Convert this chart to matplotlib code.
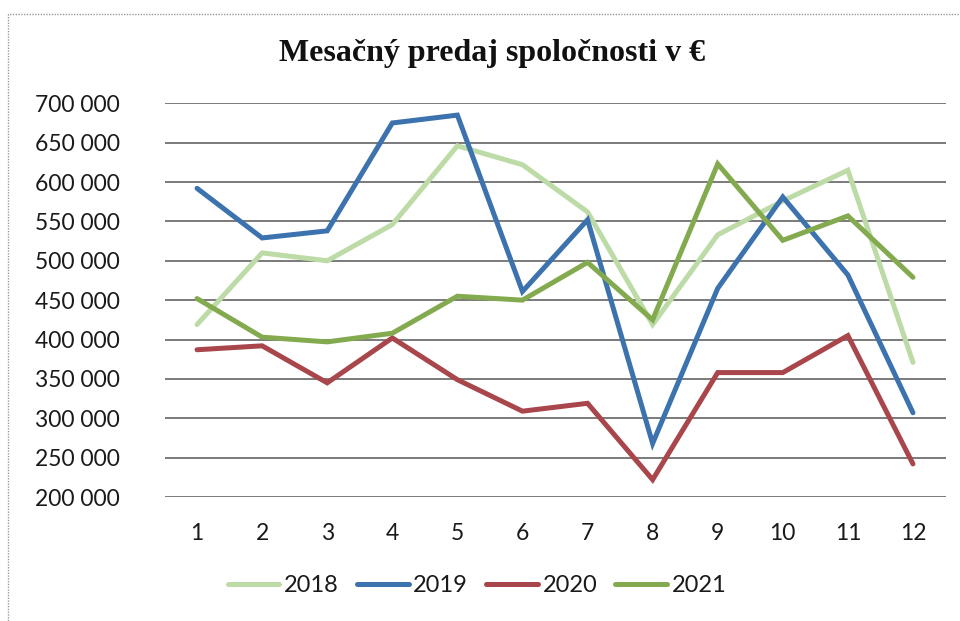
import matplotlib
matplotlib.use("Agg")
import matplotlib.pyplot as plt
from matplotlib.patches import Rectangle
from matplotlib.ticker import FuncFormatter

months = [1, 2, 3, 4, 5, 6, 7, 8, 9, 10, 11, 12]
sales_2018 = [419000, 510000, 500000, 546000, 646000, 622000, 562000, 419000, 533000, 576000, 615000, 371000]
sales_2019 = [592000, 529000, 538000, 675000, 685000, 461000, 552000, 268000, 465000, 581000, 482000, 307000]
sales_2020 = [387000, 392000, 345000, 402000, 349000, 309000, 319000, 222000, 358000, 358000, 405000, 242000]
sales_2021 = [452000, 403000, 397000, 408000, 455000, 450000, 498000, 425000, 623000, 526000, 557000, 479000]
series_labels = ["2018", "2019", "2020", "2021"]
yticks = [200000, 250000, 300000, 350000, 400000, 450000, 500000, 550000, 600000, 650000, 700000]
title = "Mesačný predaj spoločnosti v €"

colors = ["#bcdba6", "#3c72ae", "#a9464b", "#84aa4f"]

fig = plt.figure(figsize=(9.6, 6.21), dpi=100)
fig.patch.set_facecolor("white")
# outer chart border (scanned Excel chart frame)
fig.patches.append(Rectangle((8/960, -0.05), 1.1, 1 - 14/621 + 0.05, transform=fig.transFigure,
                             fill=False, edgecolor="#9a9a9a", linewidth=1.0, linestyle=(0, (1, 1))))

ax = fig.add_axes([164.5/960, 1 - 497/621, (945.5 - 164.5)/960, (497 - 103.3)/621])
ax.set_xlim(0.5, 12.5)
ax.set_ylim(200000, 700000)
for s in ax.spines.values():
    s.set_visible(False)
ax.set_yticks(yticks)
ax.yaxis.grid(True, color="#7a7a7a", linewidth=1.4)
ax.set_axisbelow(True)
ax.set_xticks(months)
ax.tick_params(length=0)
ax.tick_params(axis="y", pad=32, labelsize=16.5, labelcolor="#1a1a1a")
ax.tick_params(axis="x", pad=19, labelsize=16.5, labelcolor="#1a1a1a")
ax.yaxis.set_major_formatter(FuncFormatter(lambda v, p: f"{int(v):,}".replace(",", " ")))
for lab in ax.get_xticklabels() + ax.get_yticklabels():
    lab.set_fontfamily("Lato")

handles = []
for vals, c, lab in zip([sales_2018, sales_2019, sales_2020, sales_2021], colors, series_labels):
    h, = ax.plot(months, vals, color=c, linewidth=3.6, solid_capstyle="round",
                 solid_joinstyle="miter", label=lab)
    handles.append(h)

fig.text(492/960, 1 - 53/621, title, ha="center", va="center",
         fontfamily="Liberation Serif", fontweight="bold", fontsize=23, color="#111111")

leg = fig.legend(handles=handles, loc="center", bbox_to_anchor=(477/960, 1 - 586/621), ncol=4,
                 frameon=False, handlelength=2.2, handletextpad=0.2, columnspacing=0.75,
                 prop={"family": "Lato", "size": 17})
for t in leg.get_texts():
    t.set_color("#1a1a1a")

fig.savefig("out.png", dpi=100)
